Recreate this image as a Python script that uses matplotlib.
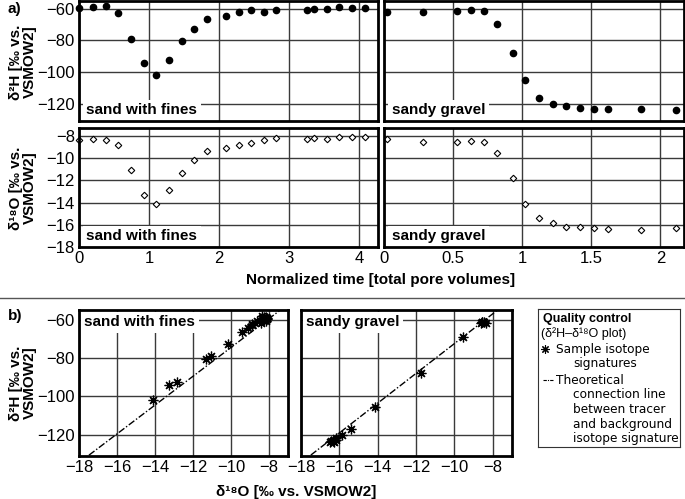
import matplotlib
matplotlib.use("Agg")
import matplotlib.pyplot as plt
from matplotlib.lines import Line2D

plt.rcParams['font.family'] = ['Liberation Sans', 'DejaVu Sans']
plt.rcParams['font.size'] = 11
plt.rcParams['axes.unicode_minus'] = True

# ---------------------------------------------------------------------------
# Data
# ---------------------------------------------------------------------------
t_sand = [0.0, 0.2, 0.38, 0.56, 0.74, 0.93, 1.1, 1.28, 1.47, 1.64, 1.83,
          2.1, 2.28, 2.46, 2.64, 2.82, 3.25, 3.36, 3.54, 3.71, 3.9, 4.08]
d2h_sand = [-59.4, -58.7, -58.3, -62.9, -79.0, -94.3, -101.7, -92.4, -80.6,
            -72.6, -66.5, -64.2, -62.1, -60.8, -61.7, -60.8, -60.4, -60.0,
            -60.0, -58.7, -59.6, -59.4]
d18o_sand = [-8.39, -8.27, -8.36, -8.87, -11.07, -13.28, -14.12, -12.84,
             -11.31, -10.15, -9.4, -9.13, -8.87, -8.63, -8.4, -8.18, -8.3,
             -8.24, -8.3, -8.15, -8.1, -8.12]

t_grav = [0.02, 0.28, 0.53, 0.63, 0.72, 0.82, 0.93, 1.02, 1.12, 1.22, 1.32,
          1.42, 1.52, 1.62, 1.86, 2.11]
d2h_grav = [-61.7, -61.7, -61.5, -61.0, -61.5, -69.3, -87.8, -105.3, -116.7,
            -120.1, -121.5, -122.8, -123.2, -123.4, -123.6, -123.8]
d18o_grav = [-8.33, -8.6, -8.54, -8.45, -8.57, -9.55, -11.76, -14.12, -15.4,
             -15.88, -16.18, -16.18, -16.33, -16.42, -16.48, -16.3]

# theoretical connection lines (tracer <-> background)
line_o = [-18.0, -7.0]
line_h_sand = [-134.5, -52.0]
line_h_grav = [-134.5, -49.2]

h_ticks = [-60, -80, -100, -120]
o_ticks = [-8, -10, -12, -14, -16, -18]
t_ticks_sand = [0, 1, 2, 3, 4]
t_ticks_grav = [0, 0.5, 1, 1.5, 2]
t_labels_grav = ['0', '0.5', '1', '1.5', '2']
bo_ticks = [-18, -16, -14, -12, -10, -8]

W, H = 685, 499
fig = plt.figure(figsize=(W / 100, H / 100), dpi=100)


def px(x0, y0, x1, y1):
    return [x0 / W, 1 - y1 / H, (x1 - x0) / W, (y1 - y0) / H]


def style(ax):
    for s in ax.spines.values():
        s.set_linewidth(2)
        s.set_color('black')
        s.set_zorder(5)
    ax.tick_params(length=0, pad=3, labelsize=12)
    ax.grid(True, color='#3a3a3a', linewidth=1)
    ax.set_axisbelow(True)


def site_label(ax, text, top=False):
    y = 0.965 if top else 0.03
    va = 'top' if top else 'bottom'
    ax.text(0.025, y, text, transform=ax.transAxes, fontsize=11,
            fontweight='bold', va=va, ha='left', zorder=4,
            bbox=dict(fc='white', ec='none', pad=2.5))


# ---------------- a) time series ----------------
ax_hs = fig.add_axes(px(79, 1, 378, 121))
ax_hg = fig.add_axes(px(384, 1, 684, 121))
ax_os = fig.add_axes(px(79, 128, 378, 247))
ax_og = fig.add_axes(px(384, 128, 684, 247))

for ax in (ax_hs, ax_hg):
    ax.set_ylim(-131, -55)
    ax.set_yticks(h_ticks)
for ax in (ax_os, ax_og):
    ax.set_ylim(-18, -7.3)
    ax.set_yticks(o_ticks)
for ax in (ax_hs, ax_os):
    ax.set_xlim(0, 4.27)
    ax.set_xticks(t_ticks_sand)
for ax in (ax_hg, ax_og):
    ax.set_xlim(0, 2.17)
    ax.set_xticks(t_ticks_grav)
    ax.set_yticklabels([])
ax_og.set_xticklabels(t_labels_grav)
ax_hs.set_xticklabels([])
ax_hg.set_xticklabels([])

for ax in (ax_hs, ax_hg, ax_os, ax_og):
    style(ax)

ax_hs.plot(t_sand, d2h_sand, 'o', color='black', ms=4.5, clip_on=False, zorder=3)
ax_hg.plot(t_grav, d2h_grav, 'o', color='black', ms=4.5, clip_on=False, zorder=3)
ax_os.plot(t_sand, d18o_sand, 'D', mfc='white', mec='black', mew=0.8, ms=3.3,
           clip_on=False, zorder=3)
ax_og.plot(t_grav, d18o_grav, 'D', mfc='white', mec='black', mew=0.8, ms=3.3,
           clip_on=False, zorder=3)

site_label(ax_hs, 'sand with fines')
site_label(ax_os, 'sand with fines')
site_label(ax_hg, 'sandy gravel')
site_label(ax_og, 'sandy gravel')

fig.text(381 / W, 1 - 280 / H, 'Normalized time [total pore volumes]',
         ha='center', va='center', fontsize=11, fontweight='bold')
fig.text(23 / W, 1 - 62 / H, 'δ²H [‰ vs.\nVSMOW2]', rotation=90,
         ha='center', va='center', fontsize=11, fontweight='bold',
         linespacing=1.0)
fig.text(23 / W, 1 - 188 / H, 'δ¹⁸O [‰ vs.\nVSMOW2]', rotation=90,
         ha='center', va='center', fontsize=11, fontweight='bold',
         linespacing=1.0)
fig.text(8 / W, 1 - 9 / H, 'a)', ha='left', va='center', fontsize=11,
         fontweight='bold')

fig.add_artist(Line2D([0, 1], [1 - 298 / H] * 2, color='#555555', lw=1))

# ---------------- b) quality control ----------------
ax_bs = fig.add_axes(px(79, 310, 288, 456))
ax_bg = fig.add_axes(px(301, 310, 512, 456))
for ax in (ax_bs, ax_bg):
    ax.set_xlim(-18, -7)
    ax.set_ylim(-131, -55)
    ax.set_xticks(bo_ticks)
    ax.set_yticks(h_ticks)
    style(ax)
ax_bg.set_yticklabels([])

dashdot = (0, (5, 1.5, 1, 1.5))
ax_bs.plot(line_o, line_h_sand, color='black', lw=1, linestyle=dashdot, zorder=2)
ax_bg.plot(line_o, line_h_grav, color='black', lw=1, linestyle=dashdot, zorder=2)
ax_bs.plot(d18o_sand, d2h_sand, linestyle='none', marker=(8, 2, 0), ms=7,
           mec='black', mew=0.9, zorder=3)
ax_bg.plot(d18o_grav, d2h_grav, linestyle='none', marker=(8, 2, 0), ms=7,
           mec='black', mew=0.9, zorder=3)
site_label(ax_bs, 'sand with fines', top=True)
site_label(ax_bg, 'sandy gravel', top=True)

fig.text(296 / W, 1 - 492 / H, 'δ¹⁸O [‰ vs. VSMOW2]', ha='center',
         va='center', fontsize=11, fontweight='bold')
fig.text(23 / W, 1 - 383 / H, 'δ²H [‰ vs.\nVSMOW2]', rotation=90,
         ha='center', va='center', fontsize=11, fontweight='bold',
         linespacing=1.0)
fig.text(8 / W, 1 - 316 / H, 'b)', ha='left', va='center', fontsize=11,
         fontweight='bold')

# ---------------- legend box ----------------
lg = fig.add_axes(px(538, 309, 680, 447))
lg.set_xlim(538, 680)
lg.set_ylim(447, 309)
lg.set_xticks([])
lg.set_yticks([])
for s in lg.spines.values():
    s.set_linewidth(0.8)
    s.set_color('#333333')

lg.text(543, 319, 'Quality control', fontsize=9, fontweight='bold', va='center')
lg.text(541, 334, '(δ²H–δ¹⁸O plot)', fontsize=9, va='center')
leg_font = dict(family='DejaVu Sans', fontsize=8.7, va='center')
lg.plot([545.5], [349], linestyle='none', marker=(8, 2, 0), ms=6,
        mec='black', mew=0.8)
lg.text(556, 349, 'Sample isotope', **leg_font)
lg.text(573, 364, 'signatures', **leg_font)
lg.plot([543, 554], [380, 380], color='black', lw=0.8, linestyle=(0, (3, 1, 1, 1)))
lg.text(556, 380, 'Theoretical', **leg_font)
for i, line in enumerate(['connection line', 'between tracer',
                          'and background', 'isotope signature']):
    lg.text(573, 395 + i * 14.6, line, **leg_font)

fig.savefig('out.png', dpi=100)
